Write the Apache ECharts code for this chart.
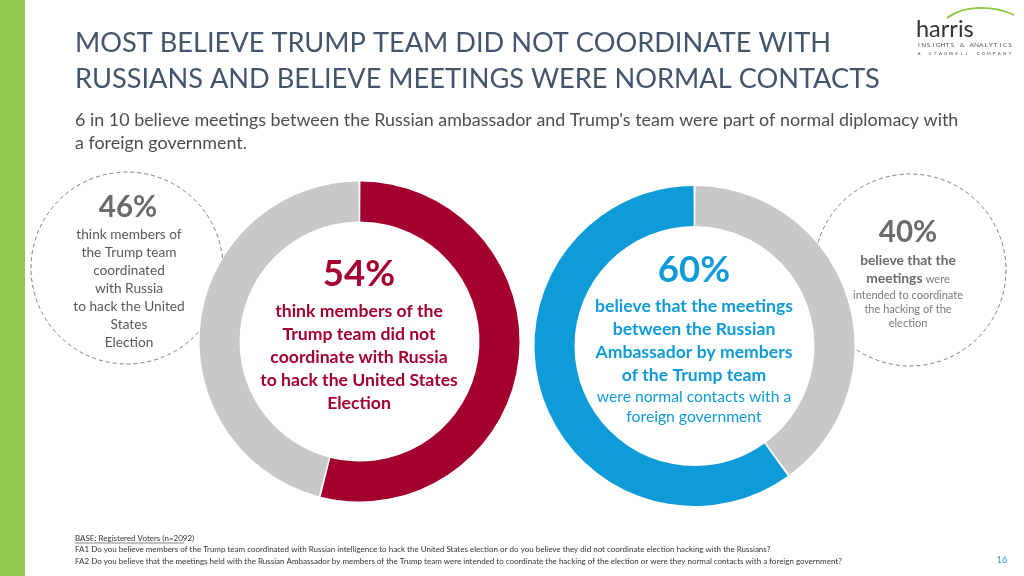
<!DOCTYPE html>
<html>
<head>
<meta charset="utf-8">
<script src="https://cdn.jsdelivr.net/npm/echarts@6.0.0/dist/echarts.min.js"></script>
<style>
html,body{margin:0;padding:0;background:#fff;}
#chart{width:1024px;height:576px;}
</style>
</head>
<body>
<div id="chart"></div>
<script>
// ---- data ----
const titleLines = ['MOST BELIEVE TRUMP TEAM DID NOT COORDINATE WITH', 'RUSSIANS AND BELIEVE MEETINGS WERE NORMAL CONTACTS'];
const subtitleLines = ["6 in 10 believe meetings between the Russian ambassador and Trump's team were part of normal diplomacy with", 'a foreign government.'];

const coordCategories = ['Did not coordinate', 'Coordinated'];
const coordValues = [54, 46];

const meetCategories = ['Intended to coordinate', 'Normal contacts'];
const meetValues = [40, 60];

const coordLeftLines = ['think members of', 'the Trump team', 'coordinated', 'with Russia', 'to hack the United', 'States', 'Election'];
const coordCenterLines = ['think members of the', 'Trump team did not', 'coordinate with Russia', 'to hack the United States', 'Election'];
const meetCenterBold = ['believe that the meetings', 'between the Russian', 'Ambassador by members', 'of the Trump team'];
const meetCenterRegular = ['were normal contacts with a', 'foreign government'];
const meetRightLines = ['intended to coordinate', 'the hacking of the', 'election'];

const footLines = ['BASE: Registered Voters (n=2092)',
  'FA1 Do you believe members of the Trump team coordinated with Russian intelligence to hack the United States election or do you believe they did not coordinate election hacking with the Russians?',
  'FA2 Do you believe that the meetings held with the Russian Ambassador by members of the Trump team were intended to coordinate the hacking of the election or were they normal contacts with a foreign government?'];
const pageNumber = '16';

// ---- style ----
const RED = '#A4002F', BLUE = '#0E9BD8', GRAY = '#C8C8C8', SIDE = '#6B6B6B';
const FONT = 'Lato, "Open Sans", sans-serif';

const chart = echarts.init(document.getElementById('chart'), null, {renderer: 'canvas'});

function txt(text, x, y, size, color, weight, align, z) {
  return {type: 'text', z: z || 10, silent: true,
    style: {text: text, x: x, y: y, fill: color, fontSize: size, fontWeight: weight || 'normal', fontFamily: FONT,
      align: align || 'center', textAlign: align || 'center', verticalAlign: 'middle', textVerticalAlign: 'middle'}};
}
function spread(str, x0, x1, y, size, color) {
  const out = [];
  const n = str.length;
  for (let i = 0; i < n; i++) {
    if (str[i] === ' ') continue;
    out.push(txt(str[i], x0 + i * (x1 - x0) / (n - 1), y, size, color, 'normal', 'center'));
  }
  return out;
}

const g = [];
// green side bar
g.push({type: 'rect', z: 1, silent: true, shape: {x: 0, y: 0, width: 25, height: 576}, style: {fill: '#92C94E'}});
// titles
titleLines.forEach((t, i) => g.push(txt(t, 75, 43 + i * 36, 27.2, '#44546A', 'normal', 'left')));
subtitleLines.forEach((t, i) => g.push(txt(t, 75, 120 + i 
 * 23, 17.9, '#4D4D4D', 'normal', 'left')));

// dashed circles
g.push({type: 'circle', z: 0, silent: true, shape: {cx: 127, cy: 268, r: 96}, style: {fill: 'none', stroke: '#7F7F7F', lineWidth: 1, lineDash: [4, 3]}});
g.push({type: 'circle', z: 0, silent: true, shape: {cx: 910, cy: 270, r: 96}, style: {fill: 'none', stroke: '#7F7F7F', lineWidth: 1, lineDash: [4, 3]}});

// left side text
g.push(txt(coordValues[1] + '%', 128, 207, 29.5, SIDE, 'bold'));
coordLeftLines.forEach((t, i) => g.push(txt(t, 129, 235 + i * 17.9, 13.7, '#595959')));

// donut 1 center
g.push(txt(coordValues[0] + '%', 359, 274.5, 36.5, RED, 'bold'));
coordCenterLines.forEach((t, i) => g.push(txt(t, 359, 311 + i * 23, 17.6, RED, 'bold')));

// donut 2 center
g.push(txt(meetValues[1] + '%', 694, 270, 36.5, BLUE, 'bold'));
meetCenterBold.forEach((t, i) => g.push(txt(t, 694, 306 + i * 23.2, 17.6, BLUE, 'bold')));
meetCenterRegular.forEach((t, i) => g.push(txt(t, 694, 397 + i * 19.5, 15.7, BLUE, 'normal')));

// right side text
g.push(txt(meetValues[0] + '%', 908, 232, 29.5, SIDE, 'bold'));
g.push(txt('believe that the', 908, 261, 13.8, '#6B6B6B', 'bold'));
g.push({type: 'text', z: 10, silent: true, style: {text: '{b|meetings} {r|were}', x: 908, y: 279,
  align: 'center', textAlign: 'center', verticalAlign: 'middle', textVerticalAlign: 'middle',
  rich: {b: {fontSize: 13.8, fontWeight: 'bold', fill: '#6B6B6B', color: '#6B6B6B', fontFamily: FONT},
         r: {fontSize: 11, fill: '#7A7A7A', color: '#7A7A7A', fontFamily: FONT}}}});
meetRightLines.forEach((t, i) => g.push(txt(t, 908, 295 + i * 14, 11, '#7A7A7A')));

// logo
g.push({type: 'bezierCurve', z: 10, silent: true, shape: {x1: 947, y1: 18, x2: 1014, y2: 15, cpx1: 965, cpy1: 4, cpx2: 995, cpy2: 6},
  style: {stroke: '#8DC63F', lineWidth: 1.8, fill: 'none'}});
g.push(txt('harris', 916, 29, 23.5, '#333333', 'normal', 'left'));
spread('INSIGHTS & ANALYTICS', 919, 1010, 45, 6.5, '#555555').forEach(e => g.push(e));
spread('A STAGWELL COMPANY', 919, 1010, 54, 4.5, '#555555').forEach(e => g.push(e));

// footer
footLines.forEach((t, i) => g.push(txt(t, 75, 538 + i * 11.5, 8, '#333333', 'normal', 'left')));
g.push({type: 'line', z: 10, silent: true, shape: {x1: 75, y1: 543, x2: 184, y2: 543}, style: {stroke: '#333333', lineWidth: 0.6}});
g.push(txt(pageNumber, 1002, 560, 9, '#2E9BD6', 'normal', 'center'));

function pieData(names, values, colors) {
  return names.map((n, i) => ({name: n, value: values[i], itemStyle: {color: colors[i]}}));
}

const option = {
  backgroundColor: '#ffffff',
  animation: false,
  graphic: {elements: g},
  series: [
    {type: 'pie', silent: true, center: [359.5, 341.5], radius: [120, 160], startAngle: 90, clockwise: true,
      padAngle: 0.7, label: {show: false}, labelLine: {show: false}, emphasis: {disabled: true},
      data: pieData(coordCategories, coordValues, [RED, GRAY])},
    {type: 'pie', silent: true, center: [694.5, 346], radius: [120, 160], startAngle: 90, clockwise: true,
      padAngle: 0.7, label: {show: false}, labelLine: {show: false}, emphasis: {disabled: true},
      data: pieData(meetCategories, meetValues, [GRAY, BLUE])}
  ]
};
chart.setOption(option);
</script>
</body>
</html>
